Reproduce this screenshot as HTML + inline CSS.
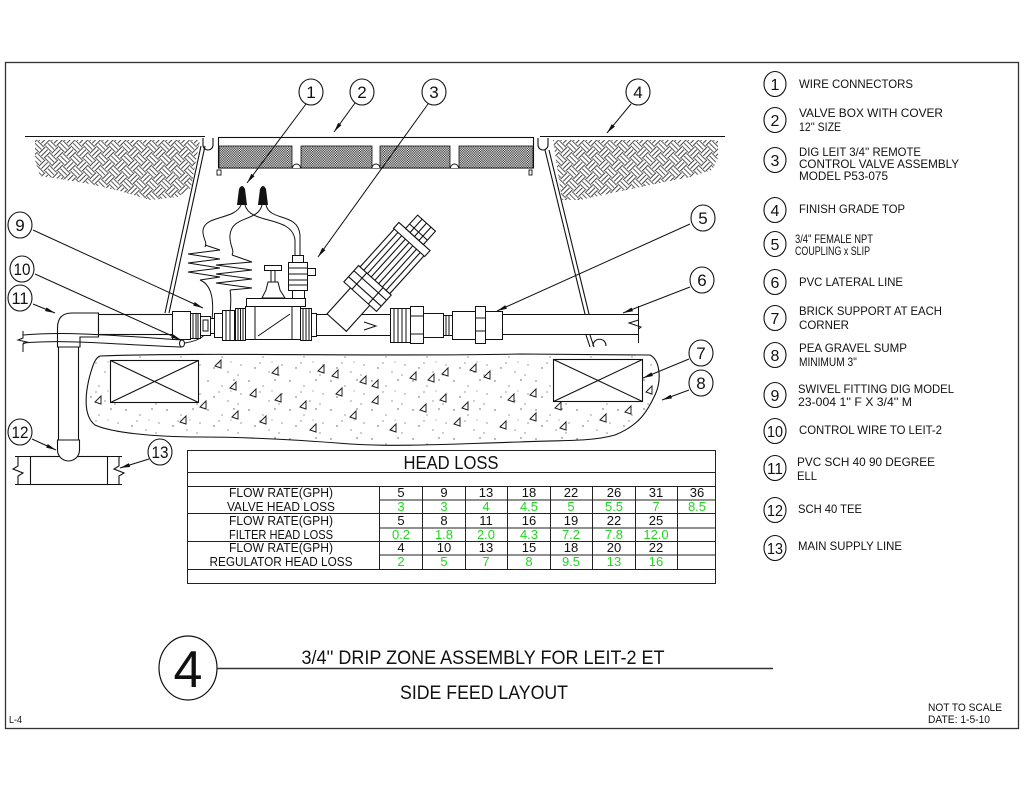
<!DOCTYPE html>
<html><head><meta charset="utf-8"><style>
html,body{margin:0;padding:0;background:#fff;}
svg{display:block;}
text{font-family:"Liberation Sans",sans-serif;fill:#111;}
</style></head><body>
<svg width="1024" height="791" viewBox="0 0 1024 791" xmlns="http://www.w3.org/2000/svg">
<defs>
<marker id="ar" viewBox="0 0 10 4" refX="10" refY="2" markerWidth="10" markerHeight="4" markerUnits="userSpaceOnUse" orient="auto"><path d="M0,0 L10,2 L0,4 z" fill="#111"/></marker>
<pattern id="weave" width="18" height="18" patternUnits="userSpaceOnUse" patternTransform="rotate(45)">
<g stroke="#222" stroke-width="0.85" fill="none">
<path d="M0,1H9M0,4.5H9M0,8H9"/>
<path d="M10,0V9M13.5,0V9M17,0V9"/>
<path d="M1,9V18M4.5,9V18M8,9V18"/>
<path d="M9,10H18M9,13.5H18M9,17H18"/>
</g></pattern>
<pattern id="dots" width="2.4" height="2.4" patternUnits="userSpaceOnUse"><rect width="2.4" height="2.4" fill="#fff"/><rect x="0" y="0" width="1.2" height="1.2" fill="#222"/><rect x="1.2" y="1.2" width="1.2" height="1.2" fill="#222"/></pattern>
<pattern id="grav" width="41" height="29" patternUnits="userSpaceOnUse">
<rect width="41" height="29" fill="#fff"/>
<g fill="#555"><circle cx="3" cy="4" r="0.7"/><circle cx="17" cy="9" r="0.6"/><circle cx="29" cy="3" r="0.7"/><circle cx="36" cy="17" r="0.6"/><circle cx="9" cy="20" r="0.7"/><circle cx="23" cy="24" r="0.6"/><circle cx="33" cy="27" r="0.6"/><circle cx="14" cy="15" r="0.6"/><circle cx="26" cy="14" r="0.5"/></g>
</pattern>
<path id="tri" d="M0,0 L6,-6 L6,2 Z" fill="none" stroke="#222" stroke-width="1"/>
</defs>

<!-- frame -->
<rect x="5.5" y="62.5" width="1013" height="666" fill="none" stroke="#333" stroke-width="1.3"/>

<!-- ground hatch -->
<path d="M35,140 L200,140 L196,160 L191,188 L178,197 L150,200 L120,191 L90,184 L60,179 L40,176 L35,160 Z" fill="url(#weave)"/>
<path d="M553,140 L718,140 L718,158 L712,170 L690,177 L650,185 L612,193 L580,200 L562,200 Z" fill="url(#weave)"/>
<g stroke="#111" stroke-width="1.1" fill="none">
<path d="M25,136.5 H205"/>
<path d="M540,136.5 H725"/>
<path d="M203,138 L203,145 A5,5 0 0 0 213,145 L213,138"/>
<path d="M538,138 L538,145 A5,5 0 0 0 548,145 L548,138"/>
<path d="M201,146 L165,313 M205,146 L169,313"/>
<path d="M545,150 L585,314 M549,150 L589,314"/>
<path d="M586,335 L590,347 M590,335 L594,347"/>
<path d="M593,346 C593,337 606,337 606,346"/>
</g>

<!-- lid -->
<rect x="218.5" y="137.5" width="315" height="30.5" fill="#fff" stroke="#111" stroke-width="1.1"/>
<g fill="url(#dots)" stroke="#111" stroke-width="0.8">
<rect x="219" y="146" width="73" height="22"/>
<rect x="301" y="146" width="71" height="22"/>
<rect x="380" y="146" width="70" height="22"/>
<rect x="459" y="146" width="74" height="22"/>
</g>
<g stroke="#111" stroke-width="0.9" fill="#fff">
<path d="M292.5,168 A4,4 0 0 1 300.5,168"/>
<path d="M372,168 A4,4 0 0 1 380,168"/>
<path d="M450.5,168 A4,4 0 0 1 458.5,168"/>
<rect x="217" y="170" width="4" height="5"/>
<rect x="529" y="170" width="3" height="5"/>
</g>

<!-- gravel -->
<path d="M100,356 C200,352 400,357 520,354 L650,355 C660,360 662,380 655,395 C648,410 640,425 615,435 C590,442 560,440 520,442 C450,444 400,447 350,444 C300,440 250,437 200,437 C150,437 110,432 95,425 C82,415 86,390 90,375 C93,365 95,358 100,356 Z" fill="url(#grav)" stroke="#111" stroke-width="1.1"/>
<g>
<use href="#tri" x="215" y="366"/><use href="#tri" x="272" y="373"/><use href="#tri" x="318" y="371"/><use href="#tri" x="332" y="376"/><use href="#tri" x="360" y="382"/><use href="#tri" x="372" y="386"/><use href="#tri" x="410" y="378"/><use href="#tri" x="428" y="380"/><use href="#tri" x="442" y="374"/><use href="#tri" x="470" y="370"/><use href="#tri" x="484" y="377"/><use href="#tri" x="230" y="388"/><use href="#tri" x="250" y="395"/><use href="#tri" x="275" y="400"/><use href="#tri" x="300" y="407"/><use href="#tri" x="336" y="394"/><use href="#tri" x="372" y="402"/><use href="#tri" x="420" y="410"/><use href="#tri" x="440" y="400"/><use href="#tri" x="462" y="408"/><use href="#tri" x="508" y="400"/><use href="#tri" x="530" y="395"/><use href="#tri" x="150" y="400"/><use href="#tri" x="200" y="407"/><use href="#tri" x="232" y="417"/><use href="#tri" x="260" y="422"/><use href="#tri" x="310" y="430"/><use href="#tri" x="350" y="417"/><use href="#tri" x="390" y="430"/><use href="#tri" x="454" y="424"/><use href="#tri" x="500" y="427"/><use href="#tri" x="530" y="419"/><use href="#tri" x="560" y="428"/><use href="#tri" x="600" y="420"/><use href="#tri" x="625" y="412"/><use href="#tri" x="95" y="402"/><use href="#tri" x="646" y="392"/><use href="#tri" x="180" y="422"/><use href="#tri" x="555" y="408"/>
</g>
<!-- bricks -->
<g stroke="#111" stroke-width="1.1" fill="#fff">
<rect x="110.5" y="360.5" width="88" height="42"/>
<path d="M110.5,360.5 L198.5,402.5 M198.5,360.5 L110.5,402.5" fill="none"/>
<rect x="553.5" y="359.5" width="89" height="42"/>
<path d="M553.5,359.5 L642.5,401.5 M642.5,359.5 L553.5,401.5" fill="none"/>
</g>

<!-- vertical supply pipe, tee -->
<g stroke="#111" stroke-width="1.1" fill="#fff">
<path d="M15,456.5 H122 M15,484.5 H122" fill="none"/>
<rect x="30.5" y="456.5" width="77" height="28"/>
<path d="M18,456 V466 L13,469 L23,473 L18,476 V485" fill="none"/>
<path d="M119,456 V466 L114,469 L124,473 L119,476 V485" fill="none"/>
<rect x="58.5" y="345" width="20" height="98"/>
<path d="M57.5,440 L57.5,450 A11,11 0 0 0 79.5,450 L79.5,440 Z"/>
<path d="M57.5,347 L57.5,328 Q57.5,313 72,313 L98.5,313 L98.5,337 L80,337 L80,347 Z"/>
<rect x="98.5" y="314.5" width="74" height="20"/>
</g>
<!-- wire 10 -->
<g stroke="#111" stroke-width="1" fill="none">
<path d="M23,335 C70,331 120,336 182,340"/>
<path d="M23,343 C70,339 120,345 182,347"/>
<path d="M23,331 V338 L18,340 L27,342 L23,344 V352"/>
</g>
<ellipse cx="182" cy="343.5" rx="2.5" ry="3.5" fill="#fff" stroke="#111"/>

<!-- wires & coils -->
<g stroke="#111" stroke-width="1" fill="none">
<path d="M205,245 L220,250 L188,254 L220,259 L188,263 L220,268 L188,272 L220,277 L200,280"/>
<path d="M232,255 L252,262 L216,265 L252,270 L216,274 L252,279 L216,283 L252,288 L230,290"/>
<path d="M241,205 C235,220 205,215 203,230 C202,238 208,242 205,247"/>
<path d="M262,205 C258,222 232,215 230,235 C229,245 235,250 232,255"/>
<path d="M245,205 C250,225 292,215 295,240 L295,256"/>
<path d="M266,205 C270,222 298,212 300,235 L300,256"/>
<path d="M200,280 C212,285 214,300 212,320 C211,330 205,340 185,343"/>
<path d="M230,290 C232,300 230,320 226,338"/>
</g>
<path d="M237,205 L239,189 Q242,183 245,189 L247,205 Z" fill="#111"/>
<path d="M258,205 L260,189 Q263,183 266,189 L268,205 Z" fill="#111"/>

<!-- swivel & union -->
<g stroke="#111" stroke-width="1" fill="#fff">
<rect x="172.5" y="311.5" width="18" height="28"/>
<rect x="190.5" y="313.5" width="10" height="25"/>
<path d="M193,314 V338 M196,314 V338 M198,314 V338" fill="none"/>
<rect x="200.5" y="316.5" width="10" height="19"/>
<rect x="203" y="320" width="5" height="11"/>
<rect x="210.5" y="318.5" width="4" height="15"/>
<rect x="214.5" y="313.5" width="8" height="24"/>
<rect x="222.5" y="310.5" width="12" height="30"/>
<path d="M226,311 V340 M230,311 V340" fill="none"/>
<rect x="235.5" y="308.5" width="10" height="32"/>
<path d="M238,309 V340 M240.5,309 V340 M243,309 V340" fill="none"/>
<rect x="245.5" y="306.5" width="55" height="33"/>
<path d="M255,307 V339 M292,307 V339 M258,336 L290,314" fill="none"/>
<rect x="246.5" y="298.5" width="59" height="8"/>
<rect x="300.5" y="308.5" width="11" height="32"/>
<path d="M303,309 V340 M306,309 V340 M309,309 V340" fill="none"/>
<rect x="311.5" y="313.5" width="5" height="23"/>
<path d="M262,298 L266,290 L268,282 L278,282 L280,290 L285,298 Z"/>
<rect x="271" y="270" width="4" height="12"/>
<rect x="264.5" y="265.5" width="17" height="5"/>
<rect x="292.5" y="290.5" width="12" height="8"/>
<rect x="288.5" y="262.5" width="19" height="28"/>
<path d="M289,268 H307 M289,274 H307 M289,280 H307 M289,285 H307" fill="none"/>
<rect x="307.5" y="268.5" width="8" height="7"/>
<rect x="292.5" y="255.5" width="11" height="7"/>
<rect x="316.5" y="314.5" width="75" height="21"/>
</g>
<path d="M364,322 L376,326 L364,330" fill="none" stroke="#111"/>
<!-- filter -->
<g transform="translate(330,330) rotate(-47.9)" stroke="#111" stroke-width="1.1" fill="#fff">
<rect x="10" y="-13" width="37" height="26"/>
<rect x="45" y="-22" width="22" height="44"/>
<path d="M52,-22 V22 M60,-22 V22 M45,-11 H67 M45,11 H67" fill="none"/>
<rect x="67" y="-20" width="53" height="40"/>
<path d="M67,-15 H120 M67,-10 H120 M67,-5 H120 M67,0 H120 M67,5 H120 M67,10 H120 M67,15 H120" fill="none"/>
<rect x="118" y="-21" width="8" height="42"/>
<rect x="126" y="-12" width="18" height="24"/>
<path d="M126,-6 H144 M126,0 H144 M126,6 H144 M132,-12 V12" fill="none"/>
</g>
<!-- right fittings -->
<g stroke="#111" stroke-width="1" fill="#fff">
<rect x="390.5" y="308.5" width="20" height="34"/>
<path d="M394,309 V342 M398,309 V342 M402,309 V342 M406,309 V342" fill="none"/>
<rect x="410.5" y="306.5" width="13" height="37"/>
<path d="M411,316 H423 M411,334 H423" fill="none"/>
<rect x="423.5" y="313.5" width="20" height="24"/>
<rect x="443.5" y="315.5" width="9" height="20"/>
<path d="M446,316 V335 M449,316 V335" fill="none"/>
<rect x="452.5" y="311.5" width="23" height="28"/>
<rect x="475.5" y="306.5" width="10" height="37"/>
<path d="M476,318 H485 M476,331 H485" fill="none"/>
<rect x="485.5" y="311.5" width="17" height="28"/>
<rect x="502.5" y="314.5" width="136" height="20"/>
</g>
<path d="M638.5,306 V320 L629,323 L641,327 L638.5,329 V343" fill="none" stroke="#111"/>

<!-- leaders -->
<g stroke="#111" stroke-width="1" fill="none" marker-end="url(#ar)">
<path d="M306,104 L247,183"/>
<path d="M355,103 L334,132"/>
<path d="M428,104 L318,257"/>
<path d="M631,104 L607,133"/>
<path d="M690,224 L497,311"/>
<path d="M690,287 L623,313"/>
<path d="M689,359 L643,378"/>
<path d="M689,390 L662,400"/>
<path d="M33,230 L203,308"/>
<path d="M35,274 L181,340"/>
<path d="M33,304 L55,313"/>
<path d="M32,439 L56,450"/>
<path d="M149,459 L120,468"/>
</g>

<!-- callouts -->
<g stroke="#111" stroke-width="1.1" fill="#fff">
<ellipse cx="311" cy="92" rx="12" ry="13"/>
<ellipse cx="362" cy="92" rx="12" ry="13"/>
<ellipse cx="434" cy="92" rx="12" ry="13"/>
<ellipse cx="638" cy="92" rx="12" ry="13"/>
<ellipse cx="703" cy="218" rx="12" ry="13"/>
<ellipse cx="702" cy="280" rx="12" ry="13"/>
<ellipse cx="701" cy="353" rx="12" ry="13"/>
<ellipse cx="701" cy="383" rx="12" ry="13"/>
<ellipse cx="20" cy="225" rx="12" ry="13"/>
<ellipse cx="22" cy="269" rx="12" ry="13"/>
<ellipse cx="20" cy="298" rx="12" ry="13"/>
<ellipse cx="20" cy="432" rx="12" ry="13"/>
<ellipse cx="160" cy="452" rx="12" ry="13"/>
</g>
<g font-size="17" text-anchor="middle">
<text x="311" y="98">1</text>
<text x="362" y="98">2</text>
<text x="434" y="98">3</text>
<text x="638" y="98">4</text>
<text x="703" y="224">5</text>
<text x="702" y="286">6</text>
<text x="701" y="359">7</text>
<text x="701" y="389">8</text>
<text x="20" y="231">9</text>
<text x="22" y="275" textLength="17" lengthAdjust="spacingAndGlyphs">10</text>
<text x="20" y="304" textLength="17" lengthAdjust="spacingAndGlyphs">11</text>
<text x="20" y="438" textLength="17" lengthAdjust="spacingAndGlyphs">12</text>
<text x="160" y="458" textLength="17" lengthAdjust="spacingAndGlyphs">13</text>
</g>

<!-- table -->
<g stroke="#222" stroke-width="1" fill="none">
<rect x="187.5" y="450.5" width="528" height="133"/>
<path d="M187,472.5 H716 M187,486.5 H716 M187,513.5 H716 M187,541.5 H716 M187,569.5 H716"/>
<path d="M379,500 H716 M379,528 H716 M379,555 H716"/>
<path d="M379.5,486 V569 M422.5,486 V569 M465.5,486 V569 M507.5,486 V569 M550.5,486 V569 M592.5,486 V569 M635.5,486 V569 M677.5,486 V569"/>
</g>
<text x="451" y="469" font-size="18" text-anchor="middle" textLength="95" lengthAdjust="spacingAndGlyphs">HEAD LOSS</text>
<g font-size="13" text-anchor="middle">
<text x="281" y="497" textLength="104" lengthAdjust="spacingAndGlyphs">FLOW RATE(GPH)</text>
<text x="281" y="511" textLength="108" lengthAdjust="spacingAndGlyphs">VALVE HEAD LOSS</text>
<text x="281" y="525" textLength="104" lengthAdjust="spacingAndGlyphs">FLOW RATE(GPH)</text>
<text x="281" y="539" textLength="104" lengthAdjust="spacingAndGlyphs">FILTER HEAD LOSS</text>
<text x="281" y="552" textLength="104" lengthAdjust="spacingAndGlyphs">FLOW RATE(GPH)</text>
<text x="281" y="566" textLength="143" lengthAdjust="spacingAndGlyphs">REGULATOR HEAD LOSS</text>
</g>
<g font-size="13" text-anchor="middle">
<text x="401" y="497">5</text><text x="444" y="497">9</text><text x="486" y="497">13</text><text x="529" y="497">18</text><text x="571" y="497">22</text><text x="614" y="497">26</text><text x="656" y="497">31</text><text x="697" y="497">36</text>
<text x="401" y="525">5</text><text x="444" y="525">8</text><text x="486" y="525">11</text><text x="529" y="525">16</text><text x="571" y="525">19</text><text x="614" y="525">22</text><text x="656" y="525">25</text>
<text x="401" y="552">4</text><text x="444" y="552">10</text><text x="486" y="552">13</text><text x="529" y="552">15</text><text x="571" y="552">18</text><text x="614" y="552">20</text><text x="656" y="552">22</text>
</g>
<g font-size="13" text-anchor="middle">
<text x="401" y="511" style="fill:#1ed81e">3</text><text x="444" y="511" style="fill:#1ed81e">3</text><text x="486" y="511" style="fill:#1ed81e">4</text><text x="529" y="511" style="fill:#1ed81e">4.5</text><text x="571" y="511" style="fill:#1ed81e">5</text><text x="614" y="511" style="fill:#1ed81e">5.5</text><text x="656" y="511" style="fill:#1ed81e">7</text><text x="697" y="511" style="fill:#1ed81e">8.5</text>
<text x="401" y="539" style="fill:#1ed81e">0.2</text><text x="444" y="539" style="fill:#1ed81e">1.8</text><text x="486" y="539" style="fill:#1ed81e">2.0</text><text x="529" y="539" style="fill:#1ed81e">4.3</text><text x="571" y="539" style="fill:#1ed81e">7.2</text><text x="614" y="539" style="fill:#1ed81e">7.8</text><text x="656" y="539" style="fill:#1ed81e">12.0</text>
<text x="401" y="566" style="fill:#1ed81e">2</text><text x="444" y="566" style="fill:#1ed81e">5</text><text x="486" y="566" style="fill:#1ed81e">7</text><text x="529" y="566" style="fill:#1ed81e">8</text><text x="571" y="566" style="fill:#1ed81e">9.5</text><text x="614" y="566" style="fill:#1ed81e">13</text><text x="656" y="566" style="fill:#1ed81e">16</text>
</g>

<!-- legend -->
<g stroke="#111" stroke-width="1.1" fill="#fff">
<ellipse cx="775" cy="84" rx="11" ry="12.5"/>
<ellipse cx="775" cy="120" rx="11" ry="12.5"/>
<ellipse cx="775" cy="160" rx="11" ry="12.5"/>
<ellipse cx="775" cy="210" rx="11" ry="12.5"/>
<ellipse cx="775" cy="244" rx="11" ry="12.5"/>
<ellipse cx="775" cy="282" rx="11" ry="12.5"/>
<ellipse cx="775" cy="318" rx="11" ry="12.5"/>
<ellipse cx="775" cy="355" rx="11" ry="12.5"/>
<ellipse cx="775" cy="395" rx="11" ry="12.5"/>
<ellipse cx="775" cy="431" rx="11" ry="12.5"/>
<ellipse cx="775" cy="468" rx="11" ry="12.5"/>
<ellipse cx="775" cy="510" rx="11" ry="12.5"/>
<ellipse cx="775" cy="548" rx="11" ry="12.5"/>
</g>
<g font-size="16" text-anchor="middle">
<text x="775" y="90">1</text>
<text x="775" y="126">2</text>
<text x="775" y="166">3</text>
<text x="775" y="216">4</text>
<text x="775" y="250">5</text>
<text x="775" y="288">6</text>
<text x="775" y="324">7</text>
<text x="775" y="361">8</text>
<text x="775" y="401">9</text>
<text x="775" y="437" textLength="16" lengthAdjust="spacingAndGlyphs">10</text>
<text x="775" y="474" textLength="16" lengthAdjust="spacingAndGlyphs">11</text>
<text x="775" y="516" textLength="16" lengthAdjust="spacingAndGlyphs">12</text>
<text x="775" y="554" textLength="16" lengthAdjust="spacingAndGlyphs">13</text>
</g>
<g font-size="12">
<text x="799" y="88" textLength="114" lengthAdjust="spacingAndGlyphs">WIRE CONNECTORS</text>
<text x="799" y="117" textLength="144" lengthAdjust="spacingAndGlyphs">VALVE BOX WITH COVER</text>
<text x="799" y="131" textLength="42" lengthAdjust="spacingAndGlyphs">12'' SIZE</text>
<text x="799" y="156" textLength="122" lengthAdjust="spacingAndGlyphs">DIG LEIT 3/4'' REMOTE</text>
<text x="799" y="168" textLength="160" lengthAdjust="spacingAndGlyphs">CONTROL VALVE ASSEMBLY</text>
<text x="799" y="180" textLength="89" lengthAdjust="spacingAndGlyphs">MODEL  P53-075</text>
<text x="799" y="213" textLength="106" lengthAdjust="spacingAndGlyphs">FINISH GRADE TOP</text>
<text x="795" y="243" textLength="78" lengthAdjust="spacingAndGlyphs">3/4'' FEMALE NPT</text>
<text x="795" y="255" textLength="75" lengthAdjust="spacingAndGlyphs">COUPLING x SLIP</text>
<text x="799" y="286" textLength="104" lengthAdjust="spacingAndGlyphs">PVC LATERAL LINE</text>
<text x="799" y="315" textLength="143" lengthAdjust="spacingAndGlyphs">BRICK SUPPORT AT EACH</text>
<text x="799" y="329" textLength="50" lengthAdjust="spacingAndGlyphs">CORNER</text>
<text x="799" y="352" textLength="108" lengthAdjust="spacingAndGlyphs">PEA GRAVEL SUMP</text>
<text x="799" y="366" textLength="58" lengthAdjust="spacingAndGlyphs">MINIMUM 3''</text>
<text x="798" y="393" textLength="156" lengthAdjust="spacingAndGlyphs">SWIVEL FITTING DIG MODEL</text>
<text x="798" y="406" textLength="114" lengthAdjust="spacingAndGlyphs">23-004  1'' F X 3/4'' M</text>
<text x="799" y="434" textLength="143" lengthAdjust="spacingAndGlyphs">CONTROL WIRE TO LEIT-2</text>
<text x="797" y="466" textLength="138" lengthAdjust="spacingAndGlyphs">PVC SCH 40 90 DEGREE</text>
<text x="797" y="480" textLength="20" lengthAdjust="spacingAndGlyphs">ELL</text>
<text x="798" y="513" textLength="64" lengthAdjust="spacingAndGlyphs">SCH 40 TEE</text>
<text x="798" y="550" textLength="104" lengthAdjust="spacingAndGlyphs">MAIN SUPPLY LINE</text>
</g>

<!-- title block -->
<ellipse cx="188" cy="668" rx="29" ry="32" fill="none" stroke="#111" stroke-width="1.2"/>
<text x="188" y="687" font-size="52" text-anchor="middle">4</text>
<path d="M217,668.5 H773" stroke="#333" stroke-width="1.4"/>
<text x="483" y="664" font-size="19" text-anchor="middle" textLength="363" lengthAdjust="spacingAndGlyphs">3/4'' DRIP ZONE ASSEMBLY FOR LEIT-2 ET</text>
<text x="484" y="699" font-size="19" text-anchor="middle" textLength="168" lengthAdjust="spacingAndGlyphs">SIDE FEED LAYOUT</text>
<text x="928" y="711" font-size="11" textLength="74" lengthAdjust="spacingAndGlyphs">NOT TO SCALE</text>
<text x="928" y="723" font-size="11" textLength="62" lengthAdjust="spacingAndGlyphs">DATE: 1-5-10</text>
<text x="9" y="723" font-size="10" textLength="13" lengthAdjust="spacingAndGlyphs">L-4</text>
</svg>
</body></html>
